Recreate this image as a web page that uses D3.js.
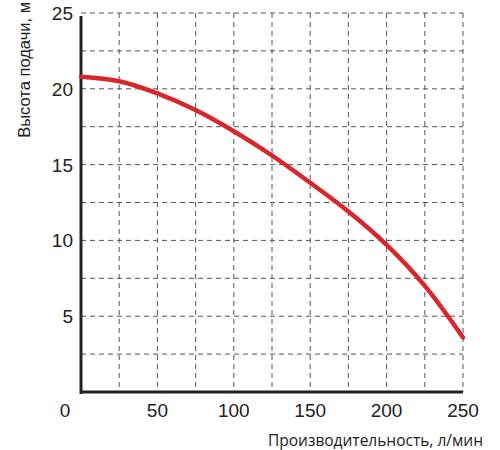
<!DOCTYPE html>
<html><head><meta charset="utf-8">
<script src="https://cdn.jsdelivr.net/npm/d3@7"></script>
<style>body{margin:0;background:#fff}</style>
</head><body>
<svg width="500" height="450"></svg>
<script>
// flow (l/min) vs head (m)
var flow = [0, 25, 50, 75, 100, 125, 150, 175, 200, 225, 250];
var head = [20.8, 20.5, 19.7, 18.6, 17.2, 15.6, 13.8, 11.9, 9.7, 7.0, 3.6];
var xTicks = [50, 100, 150, 200, 250];
var yTicks = [5, 10, 15, 20, 25];

var svg = d3.select("svg");
var x = d3.scaleLinear().domain([0, 250]).range([81, 463]);
var y = d3.scaleLinear().domain([0, 25]).range([392, 13]);

var grid = svg.append("g").attr("stroke", "#555").attr("stroke-width", 1).attr("stroke-dasharray", "5,4");
grid.selectAll("line.v").data(d3.range(25, 251, 25)).enter().append("line")
    .attr("x1", function(d) { return x(d); }).attr("x2", function(d) { return x(d); })
    .attr("y1", y(25)).attr("y2", y(0));
grid.selectAll("line.h").data(d3.range(2.5, 25.1, 2.5)).enter().append("line")
    .attr("y1", function(d) { return y(d); }).attr("y2", function(d) { return y(d); })
    .attr("x1", x(0)).attr("x2", x(250));

svg.append("line").attr("x1", x(0)).attr("x2", x(0)).attr("y1", y(25) + 3).attr("y2", y(0) + 2)
    .attr("stroke", "#222").attr("stroke-width", 3);
svg.append("line").attr("x1", x(0) - 1).attr("x2", x(250)).attr("y1", y(0)).attr("y2", y(0))
    .attr("stroke", "#222").attr("stroke-width", 3);

var font = "Liberation Sans, Arial, sans-serif";
svg.selectAll("text.xt").data(xTicks).enter().append("text")
    .attr("x", function(d) { return x(d); }).attr("y", 417)
    .attr("text-anchor", "middle").attr("font-family", font).attr("font-size", 19).attr("fill", "#222")
    .text(function(d) { return d; });
svg.selectAll("text.yt").data(yTicks).enter().append("text")
    .attr("x", 73).attr("y", function(d) { return y(d) + 7; })
    .attr("text-anchor", "end").attr("font-family", font).attr("font-size", 19).attr("fill", "#222")
    .text(function(d) { return d; });
svg.append("text").attr("x", 65).attr("y", 417).attr("text-anchor", "middle")
    .attr("font-family", font).attr("font-size", 19).attr("fill", "#222").text("0");

svg.append("text").attr("x", 483).attr("y", 446).attr("text-anchor", "end")
    .attr("font-family", "Open Sans, sans-serif").attr("font-size", 15.5).attr("fill", "#222")
    .text("Производительность, л/мин");
svg.append("text").attr("transform", "translate(30,2) rotate(-90)").attr("text-anchor", "end")
    .attr("font-family", font).attr("font-size", 16.5).attr("fill", "#222")
    .text("Высота подачи, м");

svg.append("path").datum(d3.zip(flow, head))
    .attr("fill", "none").attr("stroke", "#d9262b").attr("stroke-width", 4.5).attr("stroke-linecap", "round")
    .attr("d", d3.line().x(function(d) { return x(d[0]); }).y(function(d) { return y(d[1]); }).curve(d3.curveCatmullRom));
</script>
</body></html>
